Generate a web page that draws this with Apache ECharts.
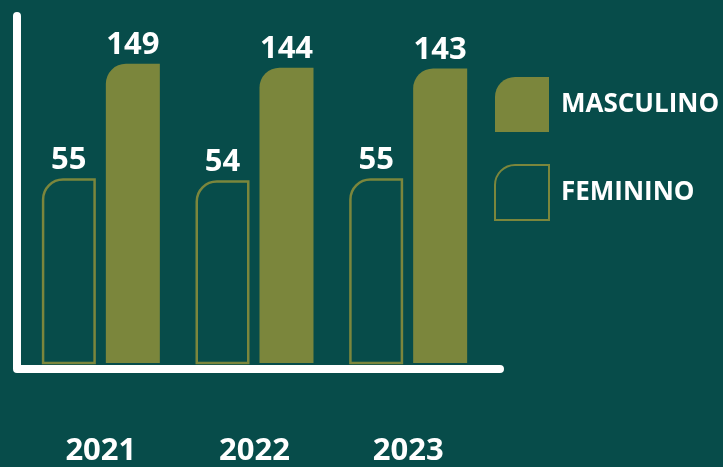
<!DOCTYPE html>
<html>
<head>
<meta charset="utf-8">
<script src="https://cdn.jsdelivr.net/npm/echarts@6/dist/echarts.min.js"></script>
<style>
  html, body { margin: 0; padding: 0; background: #074c4a; }
  #main { width: 723px; height: 467px; }
</style>
</head>
<body>
<div id="main"></div>
<script>
// datos
var years = ['2021', '2022', '2023'];
var masculino = [149, 144, 143];
var feminino = [55, 54, 55];

var OLIVE = '#7b863c';
var BG = '#074c4a';
var FONT = '"Open Sans", "DejaVu Sans", sans-serif';

// forma de la barra con la esquina superior izquierda redondeada
var iconPath = 'path://M0,20 A20,20 0 0 1 20,0 L54,0 L54,55 L0,55 Z';

var myChart = echarts.init(document.getElementById('main'));

myChart.setOption({
    backgroundColor: BG,
    animation: false,
    grid: { left: 24, right: 238, top: 30, bottom: 102 },
    legend: {
        orient: 'vertical',
        left: 494,
        top: 77,
        padding: 0,
        itemWidth: 54,
        itemHeight: 55,
        itemGap: 32,
        icon: iconPath,
        textStyle: {
            color: '#fff',
            fontFamily: FONT,
            fontWeight: 'bold',
            fontSize: 26,
            padding: [0, 0, 10, 7]
        },
        data: ['MASCULINO', 'FEMININO']
    },
    xAxis: {
        type: 'category',
        data: years,
        axisLine: { show: false },
        axisTick: { show: false },
        axisLabel: {
            margin: 73,
            color: '#fff',
            fontFamily: FONT,
            fontWeight: 'bold',
            fontSize: 31
        }
    },
    yAxis: {
        type: 'log',
        min: 11,
        max: 200,
        axisLine: { show: false },
        axisTick: { show: false },
        axisLabel: { show: false },
        splitLine: { show: false }
    },
    series: [
        {
            name: 'FEMININO',
            type: 'bar',
            data: feminino,
            barWidth: 54,
            barGap: '18.5%',
            itemStyle: {
                color: 'rgba(0,0,0,0)',
                borderColor: OLIVE,
                borderWidth: 2.5,
                borderRadius: [20, 0, 0, 0]
            },
            label: {
                show: true,
                position: 'top',
                distance: 3,
                color: '#fff',
                fontFamily: FONT,
                fontWeight: 'bold',
                fontSize: 31
            }
        },
        {
            name: 'MASCULINO',
            type: 'bar',
            data: masculino,
            barWidth: 54,
            itemStyle: {
                color: OLIVE,
                borderRadius: [20, 0, 0, 0]
            },
            label: {
                show: true,
                position: 'top',
                distance: 3,
                color: '#fff',
                fontFamily: FONT,
                fontWeight: 'bold',
                fontSize: 31
            }
        }
    ],
    graphic: [
        {
            type: 'polyline',
            z: 10,
            shape: { points: [[17, 16], [17, 369], [500, 369]] },
            style: { stroke: '#fff', lineWidth: 8, lineCap: 'round', lineJoin: 'round', fill: null }
        }
    ]
});

window.addEventListener('resize', function () {
    myChart.resize();
});
</script>
</body>
</html>
